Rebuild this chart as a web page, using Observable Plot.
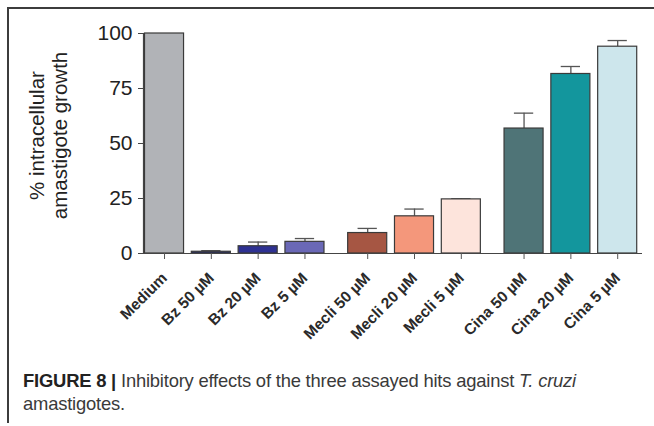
<!DOCTYPE html>
<html>
<head>
<meta charset="utf-8">
<script src="https://cdn.jsdelivr.net/npm/d3@7"></script>
<script src="https://cdn.jsdelivr.net/npm/@observablehq/plot@0.6"></script>
<style>
  html, body { margin: 0; padding: 0; background: #fff; }
  body { width: 654px; height: 426px; position: relative; overflow: hidden; font-family: "Liberation Sans", Arial, sans-serif; }
  #topline { position: absolute; left: 7px; top: 7px; width: 647px; height: 1.5px; background: #3c3c3c; z-index: 5; }
  #leftline { position: absolute; left: 7px; top: 7px; width: 1.5px; height: 416px; background: #3c3c3c; z-index: 5; }
  #chart { position: absolute; left: 0; top: 0; z-index: 1; }
  #caption { position: absolute; left: 23px; top: 369px; width: 620px; font-size: 18.4px; line-height: 23px; color: #3a3a3a; letter-spacing: -0.2px; z-index: 3; }
  #caption b { color: #222; }
</style>
</head>
<body>
<div id="chart"></div>
<div id="topline"></div>
<div id="leftline"></div>
<div id="caption"><b>FIGURE 8 |</b> Inhibitory effects of the three assayed hits against <i>T. cruzi</i><br>amastigotes.</div>
<script>
const categories = ["Medium", "Bz 50 µM", "Bz 20 µM", "Bz 5 µM", "Mecli 50 µM", "Mecli 20 µM", "Mecli 5 µM", "Cina 50 µM", "Cina 20 µM", "Cina 5 µM"];
const groups = [0, 0, 0, 0, 1, 1, 1, 2, 2, 2];
const values = [100, 0.8, 3.3, 5.3, 9.3, 16.9, 24.6, 56.8, 81.6, 94.0];
const errors = [0, 0.5, 1.9, 1.5, 2.1, 3.3, 0.3, 7.0, 3.4, 2.8];
const colors = ["#b1b3b7", "#222a6e", "#2e3192", "#6a68b6", "#a65643", "#f4977b", "#fde4dc", "#4f7477", "#13969d", "#cde6ec"];
const yTicks = [0, 25, 50, 75, 100];

const groupGap = 0.34;
const halfBar = 0.417;
const halfCap = 0.206;

const data = categories.map((c, i) => ({
  cat: c,
  pos: i + groups[i] * groupGap,
  value: values[i],
  err: errors[i],
  color: colors[i]
}));
const labelByPos = new Map(data.map(d => [d.pos, d.cat]));

const chart = Plot.plot({
  width: 654,
  height: 360,
  marginLeft: 143,
  marginRight: 12,
  marginTop: 33,
  marginBottom: 107,
  style: { background: "transparent", fontFamily: "Liberation Sans, Arial, sans-serif", color: "#222" },
  x: { type: "linear", domain: [-0.449, 10.21], axis: null },
  y: { domain: [0, 100], axis: null },
  marks: [
    Plot.ruleX(data.filter(d => d.err > 0), { x: "pos", y1: "value", y2: d => d.value + d.err, stroke: "#555", strokeWidth: 1.3 }),
    Plot.ruleY(data.filter(d => d.err > 0), { y: d => d.value + d.err, x1: d => d.pos - halfCap, x2: d => d.pos + halfCap, stroke: "#555", strokeWidth: 1.3 }),
    Plot.rectY(data, { x1: d => d.pos - halfBar, x2: d => d.pos + halfBar, y1: 0, y2: "value", fill: "color", stroke: "#3a3a3a", strokeWidth: 1.2 }),
    Plot.ruleY([0], { stroke: "#444", strokeWidth: 1.2 }),
    Plot.ruleX([-0.449], { y1: 0, y2: 100, stroke: "#444", strokeWidth: 1.2 }),
    Plot.axisY({ ticks: yTicks, tickSize: 5, tickPadding: 6, fontSize: 21, stroke: "#444", label: null, tickFormat: d => String(d) }),
    Plot.axisX({ ticks: data.map(d => d.pos), tickFormat: p => labelByPos.get(p), tickSize: 6, tickPadding: 16, tickRotate: -45, fontSize: 15.5, fontWeight: "bold", fill: "#2a2a2a", stroke: "#555", label: null }),
    Plot.text(["% intracellular\namastigote growth"], { frameAnchor: "left", textAnchor: "middle", rotate: -90, dx: -95, dy: -8, fontSize: 20.5, lineHeight: 1.12, fill: "#222" })
  ]
});
document.getElementById("chart").appendChild(chart);
</script>
</body>
</html>
